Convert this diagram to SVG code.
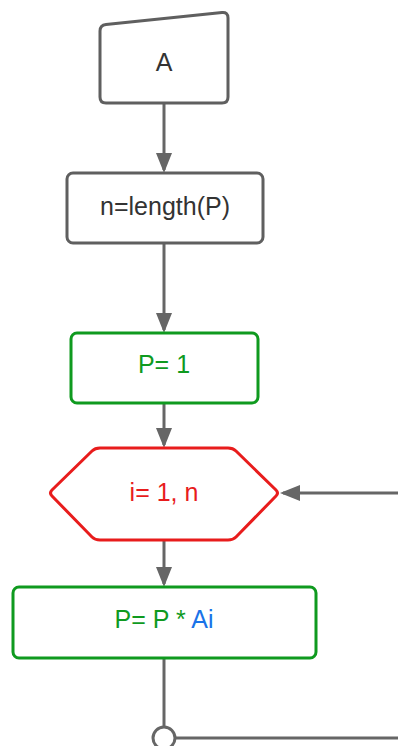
<svg xmlns="http://www.w3.org/2000/svg" width="398" height="746" viewBox="0 0 398 746">
<style>
.t{font-family:"Liberation Sans",Arial,sans-serif;font-size:25px;text-anchor:middle}
.gray{fill:#fff;stroke:#5f5f5f;stroke-width:3}
.green{fill:#fff;stroke:#0f9a1f;stroke-width:3}
.red{fill:#fff;stroke:#e81c1c;stroke-width:3;stroke-linejoin:round}
.c{fill:none;stroke:#666;stroke-width:3}
</style>
<defs>
<marker id="ah" markerUnits="userSpaceOnUse" markerWidth="22" markerHeight="18" viewBox="0 0 22 18" refX="17" refY="9" orient="auto">
<path d="M0,1 L20,9 L0,17 Z" fill="#666"/>
</marker>
</defs>
<g id="connectors">
<line class="c" x1="164" y1="103" x2="164" y2="170" marker-end="url(#ah)"/>
<line class="c" x1="164" y1="243" x2="164" y2="330" marker-end="url(#ah)"/>
<line class="c" x1="164" y1="403" x2="164" y2="445" marker-end="url(#ah)"/>
<line class="c" x1="164" y1="540" x2="164" y2="584" marker-end="url(#ah)"/>
<line class="c" x1="398" y1="493" x2="283" y2="493" marker-end="url(#ah)"/>
<line class="c" x1="164" y1="658" x2="164" y2="727"/>
<line class="c" x1="175" y1="738" x2="398" y2="738"/>
<circle cx="164" cy="738" r="11" fill="#fff" stroke="#666" stroke-width="3"/>
</g>
<g id="nodeA">
<path class="gray" d="M100,31 Q100,25 106,24.4 L222,12.6 Q228,12 228,18 L228,97 Q228,103 222,103 L106,103 Q100,103 100,97 Z"/>
<text class="t" x="164" y="71" fill="#333">A</text>
</g>
<g id="nodeLength">
<rect class="gray" x="67" y="173" width="196" height="70" rx="6"/>
<text class="t" x="165" y="215" fill="#333">n=length(P)</text>
</g>
<g id="nodeP1">
<rect class="green" x="71" y="333" width="187" height="70" rx="6"/>
<text class="t" x="164" y="373" fill="#0f9a1f">P= 1</text>
</g>
<g id="nodeLoop">
<path class="red" d="M52,490 L92,451 Q95,448 100,448 L228,448 Q233,448 236,451 L276,490 Q279,493 276,496 L236,537 Q233,540 228,540 L100,540 Q95,540 92,537 L52,496 Q49,493 52,490 Z"/>
<text class="t" x="164" y="501" fill="#e81c1c">i= 1, n</text>
</g>
<g id="nodeMul">
<rect class="green" x="13" y="587" width="303" height="71" rx="6"/>
<text class="t" x="164" y="628" fill="#0f9a1f">P= P * <tspan fill="#1a73e8">Ai</tspan></text>
</g>
</svg>
